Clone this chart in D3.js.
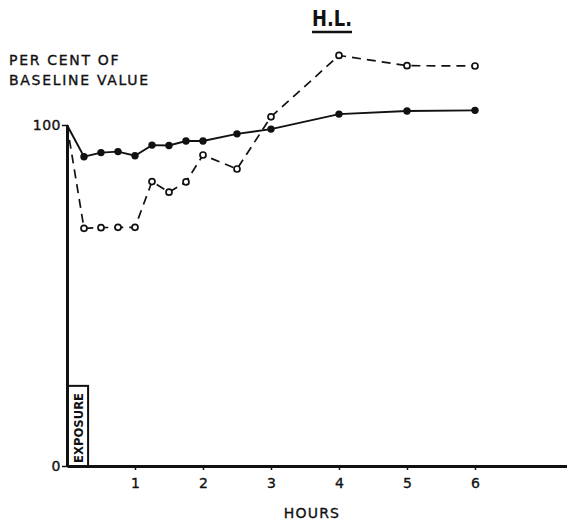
<!DOCTYPE html>
<html>
<head>
<meta charset="utf-8">
<script src="https://cdn.jsdelivr.net/npm/d3@7"></script>
<style>
  body { margin: 0; background: #fff; }
  text { font-family: "DejaVu Sans", sans-serif; fill: #111; }
  .lettering { stroke: #111; stroke-width: 0.35; }
</style>
</head>
<body>
<div id="chart"></div>
<script>
// chart data
const hours = [0, 0.25, 0.5, 0.75, 1, 1.25, 1.5, 1.75, 2, 2.5, 3, 4, 5, 6];
const solidValues = [100, 90.7, 91.9, 92.2, 91.0, 94.1, 94.0, 95.3, 95.3, 97.4, 98.8, 103.2, 104.1, 104.3];
const dashedValues = [100, 69.7, 69.9, 70.0, 70.0, 83.4, 80.3, 83.3, 91.2, 87.1, 102.4, 120.4, 117.4, 117.3];
const xTicks = [1, 2, 3, 4, 5, 6];
const yTicks = [0, 100];
const exposure = { start: 0, end: 0.31, height: 23.5, label: "EXPOSURE" };
const title = "H.L.";
const yLabel = ["PER CENT OF", "BASELINE VALUE"];
const xLabel = "HOURS";

const WIDTH = 567;
const HEIGHT = 523;

const svg = d3.select("#chart")
  .append("svg")
  .attr("width", WIDTH)
  .attr("height", HEIGHT);

// 68 px per hour, axis runs on to the right edge
let xScale = d3.scaleLinear().domain([0, 500 / 68]).range([67, 567]);
let yScale = d3.scaleLinear().domain([0, 100]).range([466, 125]);

// x axis
let xAxis = svg.append("g")
  .attr("transform", "translate(0," + yScale(0) + ")")
  .call(d3.axisBottom(xScale).tickValues(xTicks).tickSize(4).tickSizeOuter(0).tickFormat(d3.format("d")));
xAxis.select(".domain").attr("stroke", "#111").attr("stroke-width", 3);
xAxis.selectAll(".tick line").attr("stroke", "#111").attr("stroke-width", 1.5);
xAxis.selectAll(".tick text")
  .attr("class", "lettering")
  .attr("font-size", 14).attr("dy", "1.1em").attr("fill", "#111")
  .style("font-family", "DejaVu Sans, sans-serif");

// y axis
let yAxis = svg.append("g")
  .attr("transform", "translate(" + xScale(0) + ",0)")
  .call(d3.axisLeft(yScale).tickValues(yTicks).tickSize(5).tickSizeOuter(0));
yAxis.select(".domain").attr("stroke", "#111").attr("stroke-width", 3);
yAxis.selectAll(".tick line").attr("stroke", "#111").attr("stroke-width", 1.5);
yAxis.selectAll(".tick text")
  .attr("class", "lettering")
  .attr("font-size", 14).attr("x", -6).attr("fill", "#111")
  .attr("letter-spacing", 0.5)
  .style("font-family", "DejaVu Sans, sans-serif");

// exposure box
let ex0 = xScale(exposure.start), ex1 = xScale(exposure.end);
let ey0 = yScale(exposure.height), ey1 = yScale(0);
svg.append("rect")
  .attr("x", ex0).attr("y", ey0)
  .attr("width", ex1 - ex0).attr("height", ey1 - ey0)
  .attr("fill", "none").attr("stroke", "#111").attr("stroke-width", 2);
svg.append("text")
  .attr("transform", "translate(" + ((ex0 + ex1) / 2 + 5) + "," + ((ey0 + ey1) / 2 + 2) + ") rotate(-90)")
  .attr("text-anchor", "middle")
  .attr("font-size", 13).attr("font-weight", "bold")
  .attr("textLength", 70).attr("lengthAdjust", "spacingAndGlyphs")
  .text(exposure.label);

// lines
const lineGen = d3.line()
  .x(d => xScale(d[0]))
  .y(d => yScale(d[1]));

const solid = hours.map((h, i) => [h, solidValues[i]]);
const dashed = hours.map((h, i) => [h, dashedValues[i]]);

svg.append("path")
  .datum(dashed)
  .attr("d", lineGen)
  .attr("fill", "none").attr("stroke", "#111").attr("stroke-width", 1.7)
  .attr("stroke-dasharray", "9,6");

svg.append("path")
  .datum(solid)
  .attr("d", lineGen)
  .attr("fill", "none").attr("stroke", "#111").attr("stroke-width", 1.9);

svg.selectAll(".open-dot")
  .data(dashed.slice(1))
  .enter().append("circle")
  .attr("class", "open-dot")
  .attr("cx", d => xScale(d[0]))
  .attr("cy", d => yScale(d[1]))
  .attr("r", 3)
  .attr("fill", "#fff").attr("stroke", "#111").attr("stroke-width", 1.7);

svg.selectAll(".solid-dot")
  .data(solid.slice(1))
  .enter().append("circle")
  .attr("class", "solid-dot")
  .attr("cx", d => xScale(d[0]))
  .attr("cy", d => yScale(d[1]))
  .attr("r", 3.7)
  .attr("fill", "#111");

// title with underline
svg.append("text")
  .attr("x", 332).attr("y", 26)
  .attr("text-anchor", "middle")
  .attr("font-size", 21).attr("font-weight", "bold")
  .attr("textLength", 40).attr("lengthAdjust", "spacingAndGlyphs")
  .text(title);
svg.append("line")
  .attr("x1", 312).attr("x2", 352)
  .attr("y1", 32).attr("y2", 32)
  .attr("stroke", "#111").attr("stroke-width", 2.5);

// axis labels
svg.selectAll(".ylabel")
  .data(yLabel)
  .enter().append("text")
  .attr("class", "ylabel lettering")
  .attr("x", 9)
  .attr("y", (d, i) => 65 + i * 20)
  .attr("font-size", 14)
  .attr("letter-spacing", 1.7)
  .text(d => d);

svg.append("text")
  .attr("class", "lettering")
  .attr("x", 312).attr("y", 518)
  .attr("text-anchor", "middle")
  .attr("font-size", 14)
  .attr("letter-spacing", 1.2)
  .text(xLabel);
</script>
</body>
</html>
